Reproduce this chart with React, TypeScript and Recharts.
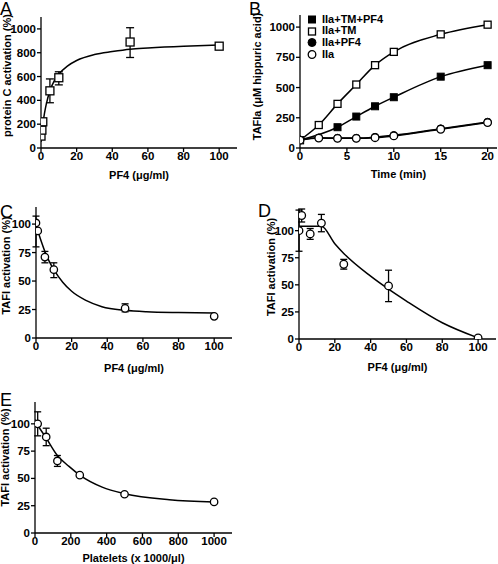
import React from "react";
import {
  ComposedChart,
  ErrorBar,
  Label,
  Line,
  Scatter,
  XAxis,
  YAxis,
} from "recharts";

const FONT = '"Liberation Sans", Arial, Helvetica, sans-serif';

// A: protein C activation vs PF4
const aDose = [0, 0.5, 1, 5, 10, 50, 100];
const aActivation = [100, 150, 220, 480, 590, 890, 855];
const aError = [null, null, null, [100, 100], [60, 50], [130, 120], null];
const aFitDose = [0, 1, 2, 3, 5, 7.5, 10, 15, 20, 30, 40, 50, 60, 80, 100];
const aFitValue = [50, 200, 295, 370, 480, 565, 620, 690, 735, 785, 810, 830, 840, 855, 865];
const aXTicks = [0, 20, 40, 60, 80, 100];
const aYTicks = [0, 200, 400, 600, 800, 1000];

// B: TAFIa time course
const bTime = [0, 2, 4, 6, 8, 10, 15, 20];
const bTmPf4 = [65, null, 172, 260, 345, 420, 590, 685];
const bTm = [65, 190, 365, 525, 685, 795, 940, 1020];
const bPf4 = [68, 85, 82, 82, 90, 105, 160, 215];
const bIIa = [65, 82, 80, 80, 85, 100, 155, 210];
const bNames = ["IIa+TM+PF4", "IIa+TM", "IIa+PF4", "IIa"];
const bXTicks = [0, 5, 10, 15, 20];
const bYTicks = [0, 250, 500, 750, 1000];

// C: TAFI activation vs PF4
const cDose = [0, 1, 5, 10, 50, 100];
const cActivation = [101, 94, 71, 60, 26, 19];
const cError = [[21, 6], null, [5, 5], [7, 6], [3, 4], null];
const cFitDose = [0, 2.5, 5, 7.5, 10, 15, 20, 28, 37, 50, 62, 80, 100];
const cFitValue = [99, 87, 76, 67, 60, 49, 41, 33, 27.5, 24.3, 23, 22.3, 22];

// D: TAFI activation vs PF4 (second condition)
const dDose = [0, 1.5, 6.25, 12.5, 25, 50, 100];
const dActivation = [100, 114, 97, 107, 69, 49, 1];
const dError = [[19, 19], [6, 6], [5, 5], [8, 8], [4.5, 4.5], [14.5, 14.5], null];
const dFitDose = [0, 12.5, 20, 25, 40, 50, 60, 80, 100];
const dFitValue = [104, 104, 88, 79, 58, 46, 35, 15, 1];

// E: TAFI activation vs platelets
const ePlatelets = [15, 62.5, 125, 250, 500, 1000];
const eActivation = [100, 88, 66, 53, 35.5, 28.5];
const eError = [[11, 11], [8, 8], [5, 5], null, null, null];
const eFitPlatelets = [0, 15, 62.5, 125, 190, 250, 375, 500, 750, 1000];
const eFitValue = [104, 99, 87, 71, 61, 53, 42, 36, 30.5, 28.5];
const eXTicks = [0, 200, 400, 600, 800, 1000];

const pctTicks = [0, 25, 50, 75, 100];

const rows = (xs: number[], ys: (number | null)[], errs?: any[]) =>
  xs.map((x, i) => ({ x, y: ys[i], err: errs ? errs[i] : null }));

const axisLine = { stroke: "#000", strokeWidth: 1.3 };
const tickStyle = { fontSize: 11.5, fontWeight: 700, fill: "#000" };
const titleStyle = { fontSize: 11, fontWeight: 700, fill: "#000" };

const openSquare = (size: number) => (p: any) =>
  p.cy == null ? <g key={p.index} /> : (
    <rect key={p.index} x={p.cx - size / 2} y={p.cy - size / 2} width={size} height={size}
      fill="#fff" stroke="#000" strokeWidth={1.3} />
  );
const filledSquare = (size: number) => (p: any) =>
  p.cy == null ? <g key={p.index} /> : (
    <rect key={p.index} x={p.cx - size / 2} y={p.cy - size / 2} width={size} height={size}
      fill="#000" stroke="#000" strokeWidth={1} />
  );
const openCircle = (r: number) => (p: any) =>
  p.cy == null ? <g key={p.index} /> : (
    <circle key={p.index} cx={p.cx} cy={p.cy} r={r} fill="#fff" stroke="#000" strokeWidth={1.3} />
  );
const filledCircle = (r: number) => (p: any) =>
  p.cy == null ? <g key={p.index} /> : (
    <circle key={p.index} cx={p.cx} cy={p.cy} r={r} fill="#000" stroke="#000" strokeWidth={1} />
  );

type PanelProps = {
  left: number;
  top: number;
  width: number;
  height: number;
  margin: { top: number; right: number; bottom: number; left: number };
  yWidth: number;
  xHeight: number;
  xDomain: number[];
  xTicks: number[];
  yDomain: number[];
  yTicks: number[];
  xTitle: string;
  yTitle: string;
  xTitleOffset: number;
  yTitleOffset: number;
  yTitleShift: number;
  children: React.ReactNode;
};

function Panel(p: PanelProps) {
  return (
    <div style={{ position: "absolute", left: p.left, top: p.top }}>
      <ComposedChart width={p.width} height={p.height} margin={p.margin}>
        <XAxis dataKey="x" type="number" domain={p.xDomain} ticks={p.xTicks} height={p.xHeight}
          axisLine={axisLine} tickLine={axisLine} tickSize={4} tickMargin={0} tick={tickStyle}
          interval={0} allowDataOverflow>
          <Label value={p.xTitle} position="insideBottom" offset={p.xTitleOffset} style={titleStyle} />
        </XAxis>
        <YAxis type="number" domain={p.yDomain} ticks={p.yTicks} width={p.yWidth}
          axisLine={axisLine} tickLine={axisLine} tickSize={4} tickMargin={1} tick={tickStyle}
          interval={0} allowDataOverflow>
          <Label value={p.yTitle} angle={-90} position="insideLeft" offset={p.yTitleOffset}
            dy={p.yTitleShift} style={{ ...titleStyle, textAnchor: "middle" }} />
        </YAxis>
        <XAxis xAxisId="top" orientation="top" type="number" domain={p.xDomain} height={0}
          tick={false} tickLine={false} axisLine={axisLine} />
        <YAxis yAxisId="right" orientation="right" type="number" domain={p.yDomain} width={0}
          tick={false} tickLine={false} axisLine={axisLine} />
        {p.children}
      </ComposedChart>
    </div>
  );
}

const fitLine = (xs: number[], ys: number[]) => (
  <Line data={rows(xs, ys)} dataKey="y" type="monotone" dot={false} stroke="#000"
    strokeWidth={1.5} isAnimationActive={false} legendType="none" />
);

const points = (data: any[], shape: any, cap: number) => (
  <Scatter data={data} dataKey="y" shape={shape} isAnimationActive={false}>
    <ErrorBar dataKey="err" direction="y" width={cap} stroke="#000" strokeWidth={1.3} />
  </Scatter>
);

const legendMarkers = [filledSquare(7), openSquare(7), filledCircle(4), openCircle(3.8)];

function BLegend() {
  return (
    <div style={{ position: "absolute", left: 306, top: 13.5, fontFamily: FONT }}>
      {bNames.map((name, i) => (
        <div key={name} style={{ display: "flex", alignItems: "center", height: 11.7 }}>
          <svg width={12} height={11} style={{ marginRight: 4 }}>
            {legendMarkers[i]({ cx: 6, cy: 5.5, index: i })}
          </svg>
          <span style={{ fontSize: 11, fontWeight: 700, lineHeight: "11.7px" }}>{name}</span>
        </div>
      ))}
    </div>
  );
}

const letter = (ch: string, left: number, top: number) => (
  <div style={{ position: "absolute", left, top, fontSize: 18, lineHeight: "18px", fontFamily: FONT }}>
    {ch}
  </div>
);

export default function App() {
  return (
    <div style={{ position: "absolute", left: 0, top: 0, width: 498, height: 564, background: "#fff", fontFamily: FONT }}>
      <Panel left={0} top={0} width={245} height={185} margin={{ top: 17, right: 8, bottom: 0, left: 0 }}
        yWidth={41} xHeight={37} xDomain={[0, 110]} xTicks={aXTicks} yDomain={[0, 1100]} yTicks={aYTicks}
        xTitle="PF4 (μg/ml)" yTitle="protein C activation (%)" xTitleOffset={6} yTitleOffset={7} yTitleShift={-7}>
        {fitLine(aFitDose, aFitValue)}
        {points(rows(aDose, aActivation, aError), openSquare(8), 4)}
      </Panel>

      <Panel left={250} top={0} width={248} height={185} margin={{ top: 15, right: 1, bottom: 0, left: 0 }}
        yWidth={50} xHeight={37} xDomain={[0, 21]} xTicks={bXTicks} yDomain={[0, 1100]} yTicks={bYTicks}
        xTitle="Time (min)" yTitle="TAFIa (μM hippuric acid)" xTitleOffset={7} yTitleOffset={7} yTitleShift={-5}>
        <Line data={rows(bTime, bTmPf4)} dataKey="y" name={bNames[0]} type="monotone" connectNulls
          stroke="#000" strokeWidth={1.5} dot={filledSquare(7)} isAnimationActive={false} />
        <Line data={rows(bTime, bTm)} dataKey="y" name={bNames[1]} type="monotone"
          stroke="#000" strokeWidth={1.5} dot={openSquare(7)} isAnimationActive={false} />
        <Line data={rows(bTime, bPf4)} dataKey="y" name={bNames[2]} type="monotone"
          stroke="#000" strokeWidth={1.5} dot={filledCircle(3.8)} isAnimationActive={false} />
        <Line data={rows(bTime, bIIa)} dataKey="y" name={bNames[3]} type="monotone"
          stroke="#000" strokeWidth={1.5} dot={openCircle(3.8)} isAnimationActive={false} />
      </Panel>

      <Panel left={0} top={190} width={245} height={185} margin={{ top: 17, right: 13, bottom: 0, left: 0 }}
        yWidth={36} xHeight={37} xDomain={[0, 110]} xTicks={aXTicks} yDomain={[0, 115]} yTicks={pctTicks}
        xTitle="PF4 (μg/ml)" yTitle="TAFI activation (%)" xTitleOffset={3} yTitleOffset={6} yTitleShift={-7}>
        {fitLine(cFitDose, cFitValue)}
        {points(rows(cDose, cActivation, cError), openCircle(3.7), 3.5)}
      </Panel>

      <Panel left={250} top={190} width={248} height={185} margin={{ top: 19, right: 2, bottom: 0, left: 0 }}
        yWidth={49} xHeight={36} xDomain={[0, 110]} xTicks={aXTicks} yDomain={[0, 120]} yTicks={pctTicks}
        xTitle="PF4 (μg/ml)" yTitle="TAFI activation (%)" xTitleOffset={4} yTitleOffset={21} yTitleShift={-7}>
        {fitLine(dFitDose, dFitValue)}
        {points(rows(dDose, dActivation, dError), openCircle(3.8), 3.5)}
      </Panel>

      <Panel left={0} top={380} width={245} height={184} margin={{ top: 22, right: 13, bottom: 0, left: 0 }}
        yWidth={35} xHeight={31} xDomain={[0, 1100]} xTicks={eXTicks} yDomain={[0, 120]} yTicks={pctTicks}
        xTitle="Platelets (x 1000/μl)" yTitle="TAFI activation (%)" xTitleOffset={2} yTitleOffset={5} yTitleShift={-10}>
        {fitLine(eFitPlatelets, eFitValue)}
        {points(rows(ePlatelets, eActivation, eError), openCircle(3.7), 3.5)}
      </Panel>

      <BLegend />
      {letter("A", 0, 0)}
      {letter("B", 249, 0)}
      {letter("C", 0, 203)}
      {letter("D", 258, 202)}
      {letter("E", 0, 391)}
    </div>
  );
}
